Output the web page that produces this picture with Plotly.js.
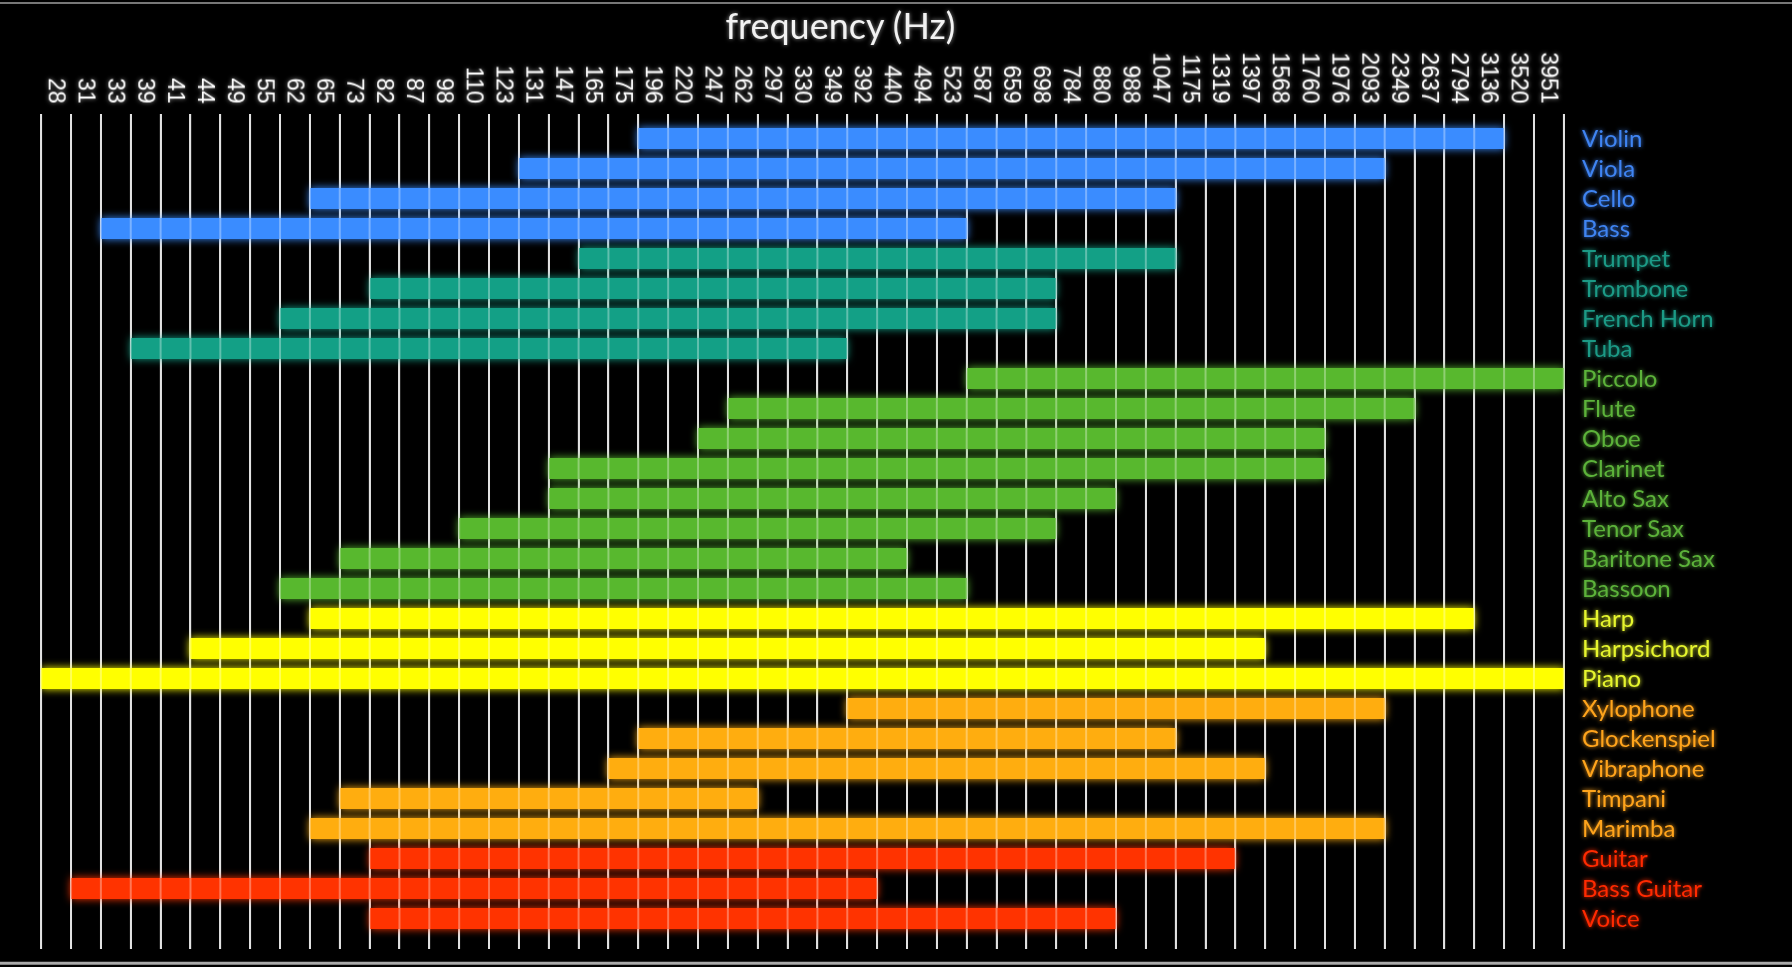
<!DOCTYPE html>
<html>
<head>
<meta charset="utf-8">
<script src="https://cdn.plot.ly/plotly-3.0.1.min.js"></script>
<style>
html,body{margin:0;padding:0;background:#000;}
#chart{width:1792px;height:967px;}
</style>
</head>
<body>
<div id="chart"></div>
<script>
// Frequency columns (Hz), left to right
const freqLabels = ["28","31","33","39","41","44","49","55","62","65","73","82","87","98","110","123","131","147","165","175","196","220","247","262","297","330","349","392","440","494","523","587","659","698","784","880","988","1047","1175","1319","1397","1568","1760","1976","2093","2349","2637","2794","3136","3520","3951"];

// Instruments, top to bottom
const instruments = ["Violin","Viola","Cello","Bass","Trumpet","Trombone","French Horn","Tuba","Piccolo","Flute","Oboe","Clarinet","Alto Sax","Tenor Sax","Baritone Sax","Bassoon","Harp","Harpsichord","Piano","Xylophone","Glockenspiel","Vibraphone","Timpani","Marimba","Guitar","Bass Guitar","Voice"];

// Lowest and highest frequency column covered by each instrument
const lowFreq  = ["196","131","65","33","165","82","62","39","587","262","247","147","147","110","73","62","65","44","28","392","196","175","73","65","82","31","82"];
const highFreq = ["3136","2093","1047","523","1047","698","698","349","3951","2349","1760","1760","880","698","440","523","2794","1397","3951","2093","1047","1397","262","2093","1319","392","880"];

// Instrument family of each row
const family = ["strings","strings","strings","strings","brass","brass","brass","brass","wood","wood","wood","wood","wood","wood","wood","wood","keys","keys","keys","perc","perc","perc","perc","perc","pluck","pluck","pluck"];

const barColors  = {strings:"#3a8cff", brass:"#13a086", wood:"#58b82e", keys:"#ffff00", perc:"#ffad0f", pluck:"#ff3300"};
const textColors = {strings:"#3f84f2", brass:"#1c9a86", wood:"#5cb23a", keys:"#e6f52e", perc:"#ffa41c", pluck:"#ff2a00"};

const rows = instruments.map((_, i) => i);
const base = lowFreq.map(f => freqLabels.indexOf(f));
const span = highFreq.map((f, i) => freqLabels.indexOf(f) - base[i] + 1);
const nCols = freqLabels.length;
const boundaries = Array.from({length: nCols + 1}, (_, i) => i);

const trace = {
  type: "bar",
  orientation: "h",
  y: rows,
  x: span,
  base: base,
  width: 0.7,
  marker: {color: family.map(f => barColors[f]), line: {width: 0}},
  hoverinfo: "skip",
  showlegend: false
};

// column boundary lines redrawn faintly on top of the bars
const overLines = boundaries.map(b => ({
  type: "line", layer: "above", xref: "x", yref: "paper",
  x0: b, x1: b, y0: 0, y1: 1,
  line: {color: "rgba(255,255,255,0.33)", width: 2}
}));

const layout = {
  width: 1792,
  height: 967,
  paper_bgcolor: "#000",
  plot_bgcolor: "#000",
  margin: {l: 40, r: 227, t: 114, b: 18},
  title: {
    text: "frequency (Hz)",
    x: 0.469, xref: "container", xanchor: "center",
    y: 0.973, yref: "container", yanchor: "middle",
    font: {family: "Lato, 'Open Sans', sans-serif", size: 36, color: "#f2f2f2"}
  },
  bargap: 0,
  xaxis: {
    side: "top",
    range: [-0.04, nCols + 0.04],
    tickmode: "array",
    tickvals: freqLabels.map((_, i) => i + 0.5),
    ticktext: freqLabels,
    tickangle: 90,
    ticks: "",
    ticklabelstandoff: 6,
    tickfont: {family: "'Liberation Sans', Arial, sans-serif", size: 23, color: "#ffffff"},
    showgrid: false,
    zeroline: false,
    showline: false,
    fixedrange: true,
    minor: {
      tickmode: "array",
      tickvals: boundaries,
      ticks: "",
      showgrid: true,
      gridcolor: "#d4d4d4",
      gridwidth: 2
    }
  },
  yaxis: {
    side: "right",
    range: [instruments.length + 0.03, -0.83],
    tickmode: "array",
    tickvals: rows,
    ticktext: instruments.map((n, i) => '<span style="color:' + textColors[family[i]] + '">' + n + '</span>'),
    ticks: "",
    ticklabelstandoff: 16,
    tickfont: {family: "Lato, 'Open Sans', sans-serif", size: 24, color: "#ffffff"},
    showgrid: false,
    zeroline: false,
    showline: false,
    fixedrange: true
  },
  shapes: overLines.concat([
    {type: "line", xref: "paper", yref: "paper", x0: -0.03, x1: 1.2, y0: 1.133, y1: 1.133, line: {color: "#777", width: 2}},
    {type: "line", xref: "paper", yref: "paper", x0: -0.03, x1: 1.2, y0: -0.017, y1: -0.017, line: {color: "#aaa", width: 3}}
  ])
};

Plotly.newPlot("chart", [trace], layout, {displayModeBar: false, staticPlot: true}).then(gd => {
  // soft glow like the original video frame
  gd.querySelectorAll(".barlayer .point path").forEach(p => {
    const c = p.style.fill;
    if (c) p.style.filter = "drop-shadow(0 0 4px " + c + ")";
  });
  gd.querySelectorAll(".xtick text, .gtitle").forEach(t => {
    t.style.filter = "drop-shadow(0 0 2px rgba(255,255,255,0.55))";
  });
  gd.querySelectorAll(".ytick text").forEach((t, i) => {
    const c = textColors[family[i]];
    if (c) t.style.filter = "drop-shadow(0 0 2px " + c + ")";
  });
});
</script>
</body>
</html>
